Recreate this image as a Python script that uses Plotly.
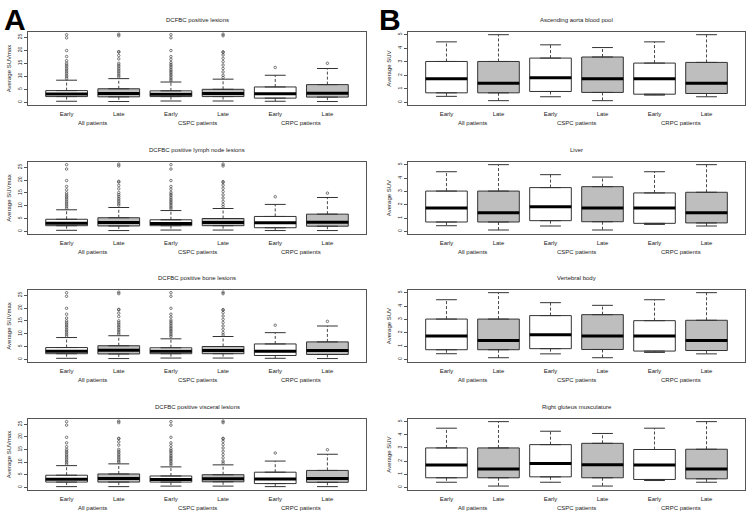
import plotly.graph_objects as go

# categories
times = ["Early", "Late", "Early", "Late", "Early", "Late"]
groups = ["All patients", "CSPC patients", "CRPC patients"]
positions = [1, 2, 3, 4, 5, 6]
group_pos = [1.5, 3.5, 5.5]

# ---- Panel A: DCFBC lesion SUVmax (q1, median, q3, lower whisker, upper whisker) ----
lesions = dict(q1=[2.2, 2.1, 2.2, 2.2, 1.6, 2.0],
               med=[3.2, 3.4, 3.1, 3.4, 3.3, 3.5],
               q3=[4.5, 5.2, 4.4, 5.0, 5.9, 6.8],
               lo=[0.4, 0.3, 0.5, 0.5, 0.4, 0.3],
               hi=[8.5, 9.1, 7.8, 8.9, 10.4, 13.0])
lesions_out = [
    [26.0, 24.8, 19.9, 17.6, 16.0, 15.0, 14.3, 13.7, 13.0, 12.4, 11.7, 11.1, 10.4, 9.8, 9.1],
    [26.2, 25.6, 19.5, 19.3, 18.0, 16.7, 15.0, 14.3, 13.7, 13.0, 12.4, 11.7, 11.1, 10.4, 9.8],
    [26.0, 24.8, 19.9, 17.6, 16.5, 15.3, 14.6, 14.0, 13.3, 12.6, 12.0, 11.4, 10.8, 10.2, 9.5, 8.9, 8.3],
    [26.2, 25.6, 19.4, 19.2, 18.2, 16.9, 15.6, 14.3, 13.0, 11.7, 10.4, 9.5],
    [13.4],
    [15.0],
]

lymph = dict(q1=[2.2, 2.1, 2.2, 2.2, 1.4, 2.0],
             med=[3.2, 3.4, 3.1, 3.4, 3.3, 3.5],
             q3=[4.7, 5.3, 4.5, 5.0, 5.8, 6.7],
             lo=[0.4, 0.3, 0.5, 0.5, 0.3, 0.3],
             hi=[8.4, 9.3, 8.1, 8.9, 10.5, 13.2])
lymph_out = [
    [26.0, 24.3, 19.8, 17.5, 16.2, 15.0, 14.2, 13.6, 13.0, 12.3, 11.6, 11.0, 10.3, 9.6, 9.0],
    [26.2, 25.5, 19.5, 19.2, 17.9, 16.6, 15.1, 14.3, 13.6, 12.9, 12.2, 11.5, 10.8, 10.2],
    [26.0, 24.3, 19.8, 17.5, 16.4, 15.2, 14.5, 13.9, 13.2, 12.5, 11.9, 11.3, 10.7, 10.0, 9.4, 8.8],
    [26.2, 25.5, 19.4, 19.1, 18.0, 16.8, 15.5, 14.2, 13.0, 11.7, 10.5, 9.6],
    [13.5],
    [14.9],
]

bone = dict(q1=[2.2, 2.1, 2.2, 2.2, 1.5, 1.9],
            med=[3.2, 3.5, 3.2, 3.4, 3.2, 3.4],
            q3=[4.6, 5.3, 4.5, 5.0, 6.0, 6.8],
            lo=[0.4, 0.3, 0.5, 0.5, 0.4, 0.3],
            hi=[8.5, 9.2, 8.0, 8.9, 10.4, 13.0])
bone_out = [
    [26.0, 24.6, 19.9, 17.6, 16.1, 15.0, 14.3, 13.7, 13.0, 12.4, 11.7, 11.1, 10.4, 9.8, 9.1],
    [26.2, 25.6, 19.5, 19.3, 18.0, 16.7, 15.0, 14.3, 13.7, 13.0, 12.4, 11.7, 11.1, 10.4, 9.8],
    [26.0, 24.6, 19.9, 17.6, 16.5, 15.3, 14.6, 14.0, 13.3, 12.6, 12.0, 11.4, 10.8, 10.2, 9.5, 8.9],
    [26.2, 25.6, 19.4, 19.2, 18.2, 16.9, 15.6, 14.3, 13.0, 11.7, 10.4, 9.5],
    [13.3],
    [14.8],
]

visceral = dict(q1=[2.1, 2.1, 2.1, 2.2, 1.5, 2.0],
                med=[3.2, 3.5, 3.1, 3.4, 3.3, 3.5],
                q3=[4.8, 5.3, 4.5, 5.0, 6.0, 6.7],
                lo=[0.3, 0.3, 0.5, 0.5, 0.3, 0.3],
                hi=[8.6, 9.3, 8.1, 8.9, 10.4, 13.1])
visceral_out = [
    [26.0, 24.6, 19.8, 17.6, 16.1, 15.0, 14.3, 13.7, 13.0, 12.4, 11.7, 11.1, 10.4, 9.8, 9.2],
    [26.2, 25.6, 19.4, 19.2, 18.0, 16.7, 15.0, 14.3, 13.7, 13.0, 12.4, 11.7, 11.1, 10.4, 9.9],
    [26.0, 24.6, 19.8, 17.6, 16.5, 15.3, 14.6, 14.0, 13.3, 12.6, 12.0, 11.4, 10.8, 10.2, 9.5, 8.9],
    [26.2, 25.6, 19.4, 19.2, 18.2, 16.9, 15.6, 14.3, 13.0, 11.7, 10.4, 9.6],
    [13.6],
    [14.9],
]

# ---- Panel B: background SUV ----
aorta = dict(q1=[0.70, 0.70, 0.80, 0.73, 0.60, 0.65],
             med=[1.75, 1.40, 1.82, 1.75, 1.75, 1.40],
             q3=[3.02, 3.02, 3.27, 3.35, 2.90, 2.95],
             lo=[0.44, 0.12, 0.41, 0.12, 0.53, 0.41],
             hi=[4.47, 5.00, 4.25, 4.05, 4.47, 5.00])
liver = dict(q1=[0.70, 0.70, 0.80, 0.72, 0.60, 0.63],
             med=[1.75, 1.40, 1.85, 1.75, 1.75, 1.40],
             q3=[3.02, 3.02, 3.28, 3.35, 2.88, 2.93],
             lo=[0.42, 0.10, 0.40, 0.10, 0.52, 0.40],
             hi=[4.47, 5.00, 4.25, 4.07, 4.47, 5.00])
vertebral = dict(q1=[0.72, 0.72, 0.80, 0.74, 0.62, 0.66],
                 med=[1.75, 1.42, 1.85, 1.75, 1.75, 1.42],
                 q3=[3.02, 3.02, 3.28, 3.35, 2.90, 2.93],
                 lo=[0.42, 0.12, 0.41, 0.12, 0.52, 0.41],
                 hi=[4.47, 5.00, 4.25, 4.05, 4.47, 5.00])
gluteus = dict(q1=[0.73, 0.73, 0.80, 0.73, 0.60, 0.65],
               med=[1.70, 1.40, 1.82, 1.72, 1.70, 1.40],
               q3=[3.00, 3.00, 3.25, 3.35, 2.88, 2.90],
               lo=[0.39, 0.10, 0.39, 0.10, 0.52, 0.39],
               hi=[4.50, 5.00, 4.27, 4.10, 4.50, 5.00])

left_ticks = [0, 5, 10, 15, 20, 25]
right_ticks = [0, 1, 2, 3, 4, 5]

panels = [
    ("DCFBC positive lesions", lesions, lesions_out, 0, 0),
    ("DCFBC positive lymph node lesions", lymph, lymph_out, 0, 1),
    ("DCFBC positive bone lesions", bone, bone_out, 0, 2),
    ("DCFBC positive visceral lesions", visceral, visceral_out, 0, 3),
    ("Ascending aorta blood pool", aorta, None, 1, 0),
    ("Liver", liver, None, 1, 1),
    ("Vertebral body", vertebral, None, 1, 2),
    ("Right gluteus musculature", gluteus, None, 1, 3),
]

W, H = 750, 517
col_px = [(28, 366), (408, 745)]
row_px = [(32, 105), (162, 234), (290, 362), (419, 490)]
FONT = "Liberation Sans"
LINE = "#333333"
GRAY = "#bebebe"
TXT = "#222222"

fig = go.Figure()
layout = {}
annotations = []

for k, (title, st, outl, col, row) in enumerate(panels, start=1):
    xa, ya = f"x{k}", f"y{k}"
    early = [0, 2, 4]
    late = [1, 3, 5]
    for idx, fill in ((early, "white"), (late, GRAY)):
        fig.add_trace(go.Box(
            x=[positions[i] for i in idx],
            q1=[st["q1"][i] for i in idx],
            median=[st["med"][i] for i in idx],
            q3=[st["q3"][i] for i in idx],
            lowerfence=[st["q1"][i] for i in idx],
            upperfence=[st["q3"][i] for i in idx],
            width=0.8, fillcolor=fill, line=dict(color=LINE, width=1),
            boxpoints=False, showlegend=False, hoverinfo="skip",
            xaxis=xa, yaxis=ya))

    # dashed whiskers, staples, thick medians
    wx, wy, cx, cy, mx, my = [], [], [], [], [], []
    for i, p in enumerate(positions):
        wx += [p, p, None, p, p, None]
        wy += [st["q3"][i], st["hi"][i], None, st["q1"][i], st["lo"][i], None]
        cx += [p - 0.2, p + 0.2, None, p - 0.2, p + 0.2, None]
        cy += [st["hi"][i], st["hi"][i], None, st["lo"][i], st["lo"][i], None]
        mx += [p - 0.4, p + 0.4, None]
        my += [st["med"][i], st["med"][i], None]
    fig.add_trace(go.Scatter(x=wx, y=wy, mode="lines", line=dict(color=LINE, width=0.9, dash="3px,2px"),
                             showlegend=False, hoverinfo="skip", xaxis=xa, yaxis=ya))
    fig.add_trace(go.Scatter(x=cx, y=cy, mode="lines", line=dict(color=LINE, width=1),
                             showlegend=False, hoverinfo="skip", xaxis=xa, yaxis=ya))
    fig.add_trace(go.Scatter(x=mx, y=my, mode="lines", line=dict(color="black", width=3),
                             showlegend=False, hoverinfo="skip", xaxis=xa, yaxis=ya))

    if outl:
        ox, oy = [], []
        for p, vals in zip(positions, outl):
            ox += [p] * len(vals)
            oy += vals
        fig.add_trace(go.Scatter(x=ox, y=oy, mode="markers",
                                 marker=dict(symbol="circle-open", size=2.5, color="#444", line=dict(width=0.7)),
                                 showlegend=False, hoverinfo="skip", xaxis=xa, yaxis=ya))

    x0, x1 = col_px[col]
    top, bot = row_px[row]
    xdom = [x0 / W, x1 / W]
    ydom = [1 - bot / H, 1 - top / H]
    if col == 0:
        yrange, yticks, ylab = [-1.04, 27.04], left_ticks, "Average SUVmax"
    else:
        yrange, yticks, ylab = [-0.2, 5.2], right_ticks, "Average SUV"

    layout[f"xaxis{k}"] = dict(domain=xdom, anchor=ya, range=[0.26, 6.74],
                               tickvals=positions, ticktext=times,
                               ticks="outside", ticklen=3, tickcolor="rgba(0,0,0,0)",
                               tickfont=dict(size=6, family=FONT, color=TXT),
                               showline=True, mirror=True, linecolor="#555", linewidth=1,
                               showgrid=False, zeroline=False, fixedrange=True)
    layout[f"yaxis{k}"] = dict(domain=ydom, anchor=xa, range=yrange,
                               tickvals=yticks, tickangle=-90,
                               ticks="outside", ticklen=3, tickcolor="#555",
                               tickfont=dict(size=5, family=FONT, color=TXT),
                               showline=True, mirror=True, linecolor="#555", linewidth=1,
                               showgrid=False, zeroline=False, fixedrange=True,
                               title=dict(text=ylab, font=dict(size=6, family=FONT, color=TXT),
                                          standoff=4))

    annotations.append(dict(text=title, xref="paper", yref="paper",
                            x=(x0 + x1) / 2 / W, y=1 - (top - 12) / H,
                            xanchor="center", yanchor="middle", showarrow=False,
                            font=dict(size=6, family=FONT, color=TXT)))
    for g, gp in zip(groups, group_pos):
        annotations.append(dict(text=g, xref=xa, yref="paper", x=gp, y=1 - (bot + 18) / H,
                                xanchor="center", yanchor="middle", showarrow=False,
                                font=dict(size=6, family=FONT, color=TXT)))

annotations.append(dict(text="<b>A</b>", xref="paper", yref="paper", x=2 / W, y=1 - 1 / H,
                        xanchor="left", yanchor="top", showarrow=False,
                        font=dict(size=30, family=FONT, color="black")))
annotations.append(dict(text="<b>B</b>", xref="paper", yref="paper", x=377 / W, y=1 - 1 / H,
                        xanchor="left", yanchor="top", showarrow=False,
                        font=dict(size=30, family=FONT, color="black")))

fig.update_layout(width=W, height=H, autosize=False,
                  margin=dict(l=0, r=0, t=0, b=0),
                  paper_bgcolor="white", plot_bgcolor="white",
                  annotations=annotations, **layout)

# drop the default page margin so the figure fills the window
fig.write_html("out.html", config={"displayModeBar": False},
               post_script="document.body.style.margin='0';document.body.style.overflow='hidden';")
